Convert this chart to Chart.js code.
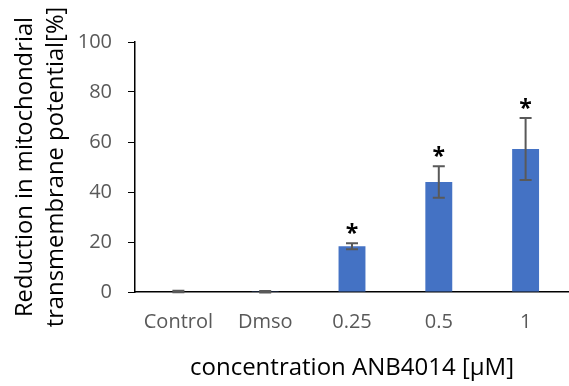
<!DOCTYPE html>
<html>
<head>
<meta charset="utf-8">
<script src="https://cdn.jsdelivr.net/npm/chart.js@4.4.1/dist/chart.umd.min.js"></script>
<style>
  html, body { margin: 0; padding: 0; background: #fff; }
  #wrap { width: 569px; height: 386px; position: relative; }
</style>
</head>
<body>
<div id="wrap"><canvas id="myChart"></canvas></div>
<script>
// data
const categories = ['Control', 'Dmso', '0.25', '0.5', '1'];
const reduction = [0.2, 0.1, 18.3, 44, 57.2];
const errors = [0.3, 0.3, 1.2, 6.3, 12.4];
const significant = [false, false, true, true, true];
const yTicks = [0, 20, 40, 60, 80, 100];

const FONT = "'Open Sans', 'Noto Sans', sans-serif";

// error bars + significance stars on top of each bar
const errorBars = {
  id: 'errorBars',
  afterDatasetsDraw(chart) {
    const ctx = chart.ctx;
    const y = chart.scales.y;
    const meta = chart.getDatasetMeta(0);
    ctx.save();
    meta.data.forEach((bar, i) => {
      const x = bar.x;
      const top = y.getPixelForValue(reduction[i] + errors[i]);
      const bottom = y.getPixelForValue(reduction[i] - errors[i]);
      ctx.strokeStyle = '#595959';
      ctx.lineWidth = 2;
      ctx.beginPath();
      ctx.moveTo(x, top); ctx.lineTo(x, bottom);
      ctx.moveTo(x - 6, top); ctx.lineTo(x + 6, top);
      ctx.moveTo(x - 6, bottom); ctx.lineTo(x + 6, bottom);
      ctx.stroke();
      if (significant[i]) {
        ctx.fillStyle = '#000';
        ctx.font = 'bold 23px ' + FONT;
        ctx.textAlign = 'center';
        ctx.textBaseline = 'alphabetic';
        ctx.fillText('*', x, top - 2);
      }
    });
    ctx.restore();
  }
};

const data = {
  labels: categories,
  datasets: [{
    data: reduction,
    backgroundColor: '#4472C4',
    borderWidth: 0,
    categoryPercentage: 1,
    barPercentage: 0.31
  }]
};

const config = {
  type: 'bar',
  data,
  options: {
    responsive: true,
    maintainAspectRatio: false,
    animation: false,
    layout: { padding: { top: 42, right: 0, bottom: 0, left: 0 } },
    plugins: {
      legend: { display: false },
      tooltip: { enabled: false }
    },
    scales: {
      x: {
        afterFit(scale) { scale.height = 94; },
        grid: { display: false, drawTicks: false },
        border: { color: '#000', width: 1.5 },
        ticks: {
          color: '#595959',
          padding: 18,
          font: { family: FONT, size: 20 }
        },
        title: {
          display: true,
          text: 'concentration ANB4014 [µM]',
          color: '#000',
          padding: { top: 0, bottom: 3 },
          font: { family: FONT, size: 24, lineHeight: 1.2 }
        }
      },
      y: {
        min: 0,
        max: 100,
        afterFit(scale) { scale.width = 135; },
        afterBuildTicks(scale) { scale.ticks = yTicks.map(v => ({ value: v })); },
        grid: { drawOnChartArea: false, drawTicks: true, tickLength: 7, color: '#000' },
        border: { color: '#000', width: 1.5 },
        ticks: {
          color: '#595959',
          padding: 16,
          font: { family: FONT, size: 20 }
        },
        title: {
          display: true,
          text: ['Reduction in mitochondrial', 'transmembrane potential[%]'],
          color: '#000',
          padding: { top: 10, bottom: 0 },
          font: { family: FONT, size: 23.8, lineHeight: '31px' }
        }
      }
    }
  },
  plugins: [errorBars]
};

const myChart = new Chart(document.getElementById('myChart'), config);
</script>
</body>
</html>
